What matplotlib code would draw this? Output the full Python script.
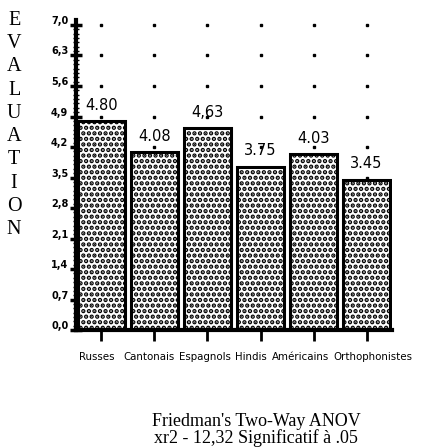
import numpy as np
import matplotlib
matplotlib.use("Agg")
import matplotlib.pyplot as plt
import matplotlib.transforms as mtransforms

# données
groupes = ['Russes', 'Cantonais', 'Espagnols', 'Hindis', 'Américains', 'Orthophonistes']
moyennes = [4.80, 4.08, 4.63, 3.75, 4.03, 3.45]
etiquettes = ['4.80', '4.08', '4,63', '3.75', '4.03', '3.45']
graduations = [0.0, 0.7, 1.4, 2.1, 2.8, 3.5, 4.2, 4.9, 5.6, 6.3, 7.0]

plt.rcParams['hatch.linewidth'] = 2.2

fig = plt.figure(figsize=(4.27, 4.48), dpi=100)
ax = fig.add_axes([0.178, 0.263, 0.74, 0.692])

x = np.arange(len(groupes))

# grille de points derrière les barres
for xi in x:
    ax.plot([xi] * len(graduations), graduations, ls='none', marker='s',
            ms=2, color='black', zorder=1)

ax.bar(x, moyennes, width=0.88, facecolor='white', edgecolor='black',
       linewidth=2.2, hatch='...', zorder=2)

for xi, v, lab in zip(x, moyennes, etiquettes):
    ax.annotate(lab, (xi, v), xytext=(0, 6), textcoords='offset points',
                ha='center', va='bottom', fontsize=10.5, family='DejaVu Sans')

ax.set_xlim(-0.48, 5.48)
ax.set_ylim(0, 7.11)

ax.set_yticks(graduations)
ax.set_yticklabels([f'{g:.1f}'.replace('.', ',') for g in graduations],
                   fontsize=7, fontweight='bold')
ax.set_yticks(np.arange(0, 7.05, 0.1), minor=True)
ax.tick_params(axis='y', which='major', direction='inout', length=9, width=2.5, pad=1)
ax.tick_params(axis='y', which='minor', direction='inout', length=5, width=1)
decal = mtransforms.ScaledTranslation(0, 5 / 100, fig.dpi_scale_trans)
for t in ax.get_yticklabels():
    t.set_transform(t.get_transform() + decal)

ax.set_xticks(x)
ax.set_xticklabels(groupes, fontsize=8.2, family='DejaVu Sans', fontstretch='condensed')
ax.tick_params(axis='x', direction='out', length=8, width=2, pad=8)
# les étiquettes du scan ne sont pas centrées sous les repères
decalages_px = [-5, -5, -3, -10, -13, 6]
for t, dx in zip(ax.get_xticklabels(), decalages_px):
    t.set_transform(t.get_transform() +
                    mtransforms.ScaledTranslation(dx / 100, 0, fig.dpi_scale_trans))

for s in ['top', 'right']:
    ax.spines[s].set_visible(False)
ax.spines['left'].set_linewidth(3)
ax.spines['bottom'].set_linewidth(3)

# titre vertical lettre par lettre
for i, c in enumerate('EVALUATION'):
    fig.text(0.033, 0.955 - i * 0.052, c, ha='center', va='center',
             fontsize=14.5, family='Liberation Serif')

fig.text(0.6, 0.06, "Friedman's Two-Way ANOV", ha='center', va='center',
         fontsize=13, family='Liberation Serif')
fig.text(0.6, 0.022, "xr2 - 12,32 Significatif à .05", ha='center', va='center',
         fontsize=13, family='Liberation Serif')

fig.savefig('out.png', dpi=100)
